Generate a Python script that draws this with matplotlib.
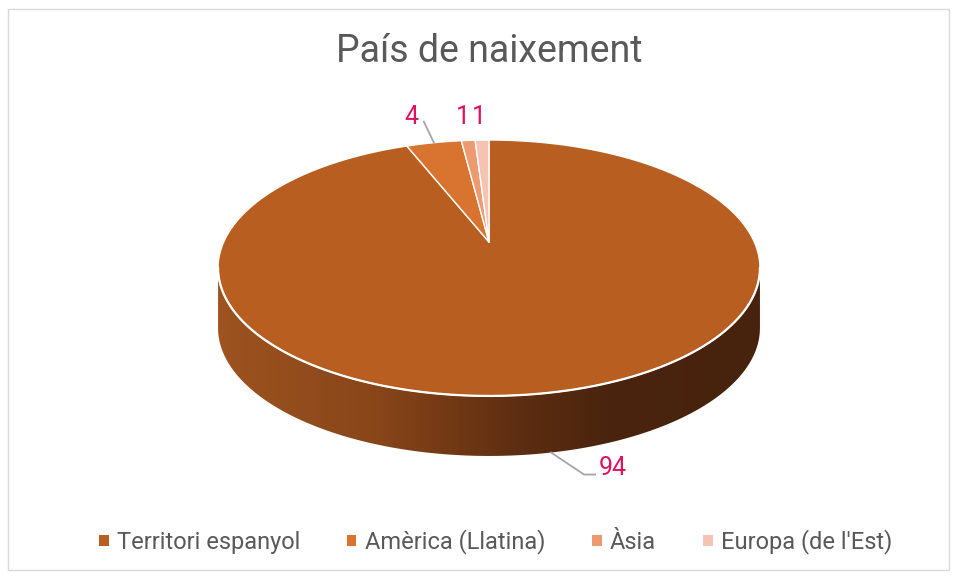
import numpy as np
import matplotlib.pyplot as plt
from matplotlib.patches import Polygon, Patch, Rectangle
from matplotlib.colors import LinearSegmentedColormap

# data
categories = ["Territori espanyol", "Amèrica (Llatina)", "Àsia", "Europa (de l'Est)"]
values = [94, 4, 1, 1]
colors = ["#B85E21", "#D97430", "#EE9A70", "#F4C3B4"]
title = "País de naixement"

plt.rcParams['font.family'] = ['Roboto', 'DejaVu Sans']

W, H = 958, 578
fig = plt.figure(figsize=(W / 100, H / 100), dpi=100)
ax = fig.add_axes([0, 0, 1, 1])
ax.set_xlim(0, W)
ax.set_ylim(H, 0)
ax.axis("off")

# perspective mapping of the unit disc onto the screen
cx, cy = 489, 242
a0, b0, k = 265.3, 122.7, 0.203
depth = 60


def proj(phi, r=1.0, dy=0.0):
    # phi in degrees, clockwise from 12 o'clock
    u = r * np.sin(np.radians(phi))
    v = r * np.cos(np.radians(phi))
    return cx + a0 * u / (1 + k * v), cy - b0 * v / (1 + k * v) + dy


# side of the cylinder (front visible part), silhouette where v = -k
phi_l = 360 - np.degrees(np.arccos(-k))
phi_r = np.degrees(np.arccos(-k))
front = np.linspace(phi_r, phi_l, 200)
top_front = np.array([proj(p) for p in front])
bot_front = np.array([proj(p, dy=depth) for p in front[::-1]])
side = np.vstack([top_front, bot_front])
side_patch = Polygon(side, closed=True, facecolor="none", edgecolor="none")
ax.add_patch(side_patch)

cmap = LinearSegmentedColormap.from_list(
    "side", [(0, "#9E5320"), (0.3, "#874519"), (0.55, "#5E2E12"), (0.72, "#4A240E"), (1, "#47220D")])
grad = np.linspace(0, 1, 400).reshape(1, -1)
xmin, xmax = side[:, 0].min(), side[:, 0].max()
ymin, ymax = side[:, 1].min(), side[:, 1].max()
im = ax.imshow(grad, cmap=cmap, extent=[xmin, xmax, ymax, ymin], aspect="auto", zorder=1)
im.set_clip_path(side_patch)

# top face wedges
total = float(sum(values))
start = 0.0
mids = []
for val, col in zip(values, colors):
    span = 360.0 * val / total
    angs = np.linspace(start, start + span, max(int(span * 2), 4))
    pts = [(cx, cy)] + [proj(p) for p in angs]
    ax.add_patch(Polygon(pts, closed=True, facecolor=col, edgecolor="white",
                         linewidth=1.0, joinstyle="round", zorder=2))
    mids.append(start + span / 2)
    start += span

# white rim along the front edge
ax.plot(top_front[:, 0], top_front[:, 1], color="white", lw=1.6, zorder=3)

# data labels
lab_col = "#E0115F"
lead_col = "#A6A6A6"
lfs = 18

x0, y0 = proj(mids[0], dy=depth)
ax.plot([x0, x0 + 33, x0 + 44], [y0, y0 + 22, y0 + 22], color=lead_col, lw=1.3, zorder=3)
ax.text(x0 + 48, y0 + 15, str(values[0]), color=lab_col, fontsize=lfs, ha="left", va="center")

x1, y1 = proj(mids[1])
ax.plot([x1, x1 - 10], [y1, y1 - 21], color=lead_col, lw=1.3, zorder=3)
ax.text(x1 - 22, y1 - 26, str(values[1]), color=lab_col, fontsize=lfs, ha="center", va="center")

for i, dx in zip([2, 3], [-5, -3]):
    xi, yi = proj(mids[i])
    ax.text(xi + dx, 117, str(values[i]), color=lab_col, fontsize=lfs, ha="center", va="center")

# title
ax.text(489, 52, title, color="#595959", fontsize=27, ha="center", va="center")

# legend
handles = [Patch(facecolor=c, edgecolor="none") for c in colors]
leg = ax.legend(handles, categories, loc="center", bbox_to_anchor=(495.5 / W, 1 - 542 / H),
                ncol=4, frameon=False, fontsize=17, handlelength=0.4, handleheight=0.4,
                handletextpad=0.34, columnspacing=2.0, labelcolor="#595959",
                borderpad=0, borderaxespad=0)

# chart border
ax.add_patch(Rectangle((8.5, 8.5), 941, 561, fill=False, edgecolor="#D9D9D9", lw=1.0))

fig.savefig("out.png", dpi=100)
